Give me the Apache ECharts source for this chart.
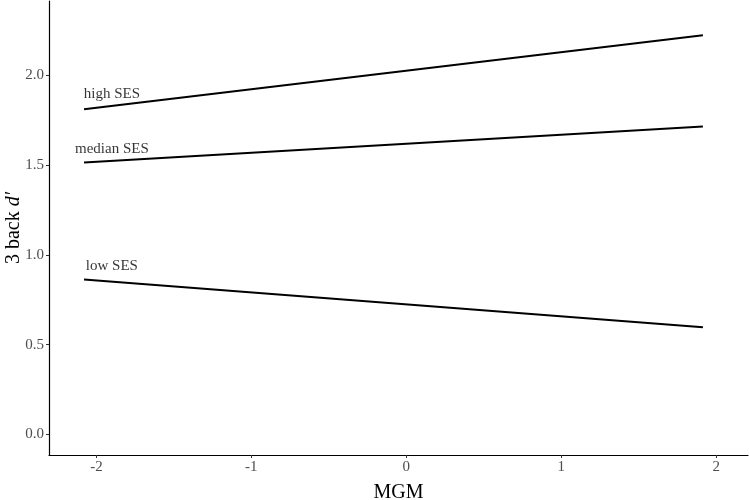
<!DOCTYPE html>
<html>
<head>
<meta charset="utf-8">
<script src="https://cdn.jsdelivr.net/npm/echarts@6/dist/echarts.min.js"></script>
<style>
  html, body { margin: 0; padding: 0; background: #fff; }
  #chart { width: 749px; height: 500px; }
</style>
</head>
<body>
<div id="chart"></div>
<script>
// data
const sesGroups = ['high SES', 'median SES', 'low SES']
const mgmEnds = [-2.08, 1.914]
const highSES = [1.811, 2.223]
const medianSES = [1.514, 1.715]
const lowSES = [0.863, 0.597]
const labelX = -1.9
const labelY = [1.895, 1.589, 0.937]
const xTicks = [-2, -1, 0, 1, 2]
const yTicks = [0, 0.5, 1, 1.5, 2]

const serif = '"Liberation Serif", "DejaVu Serif", serif'

const lineOf = (name, ys) => ({
  name: name,
  type: 'line',
  symbol: 'none',
  silent: true,
  lineStyle: { color: '#000', width: 2 },
  data: mgmEnds.map((x, i) => [x, ys[i]])
})

const chart = echarts.init(document.getElementById('chart'))
chart.setOption({
  backgroundColor: '#ffffff',
  animation: false,
  grid: { left: 49, right: 1, top: 1, bottom: 45, containLabel: false, outerBoundsMode: 'none' },
  xAxis: {
    type: 'value',
    min: -2.306,
    max: 2.205,
    name: 'MGM',
    nameLocation: 'middle',
    nameGap: 28,
    nameMoveOverlap: false,
    nameTextStyle: { fontFamily: serif, fontSize: 20, color: '#000' },
    axisLine: { onZero: false, lineStyle: { color: '#000', width: 1.2 } },
    axisTick: { show: true, length: 3, customValues: xTicks, lineStyle: { color: '#333' } },
    axisLabel: { customValues: xTicks, margin: 5, fontFamily: serif, fontSize: 15, color: '#4d4d4d' },
    splitLine: { show: false }
  },
  yAxis: {
    type: 'value',
    min: -0.115,
    max: 2.414,
    name: '{n|3 back }{i|d′}',
    nameLocation: 'middle',
    nameGap: 25,
    nameRotate: 90,
    nameMoveOverlap: false,
    nameTextStyle: {
      rich: {
        n: { fontFamily: serif, fontSize: 20, color: '#000' },
        i: { fontFamily: serif, fontSize: 20, fontStyle: 'italic', color: '#000' }
      }
    },
    axisLine: { show: true, onZero: false, lineStyle: { color: '#000', width: 1.2 } },
    axisTick: { show: true, length: 3, customValues: yTicks, lineStyle: { color: '#333' } },
    axisLabel: {
      customValues: yTicks,
      margin: 5,
      fontFamily: serif,
      fontSize: 15,
      color: '#4d4d4d',
      formatter: v => v.toFixed(1)
    },
    splitLine: { show: false }
  },
  series: [
    lineOf(sesGroups[0], highSES),
    lineOf(sesGroups[1], medianSES),
    lineOf(sesGroups[2], lowSES),
    {
      type: 'scatter',
      silent: true,
      symbolSize: 0,
      label: {
        show: true,
        position: 'inside',
        formatter: p => p.name,
        fontFamily: serif,
        fontSize: 15,
        color: '#000'
      },
      data: sesGroups.map((g, i) => ({ name: g, value: [labelX, labelY[i]] }))
    }
  ]
})
</script>
</body>
</html>
